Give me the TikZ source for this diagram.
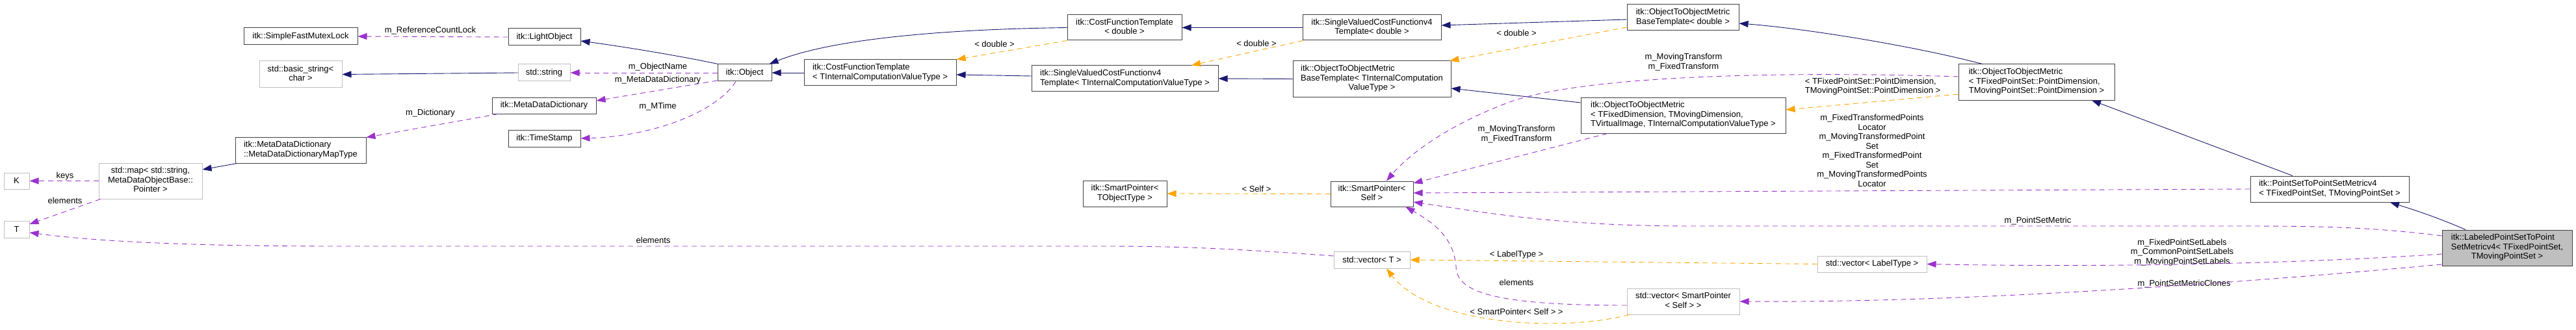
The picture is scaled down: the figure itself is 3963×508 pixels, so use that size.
\documentclass[tikz,border=0pt]{standalone}
\usepackage{fontspec}
\setmainfont{Liberation Sans}
\usetikzlibrary{arrows.meta}
\definecolor{navy}{HTML}{191970}
\definecolor{purp}{HTML}{9A32CD}
\definecolor{orng}{HTML}{FFA500}
\definecolor{gborder}{HTML}{BFBFBF}
\definecolor{bborder}{HTML}{404040}
\definecolor{labfill}{HTML}{BFBFBF}
\newcommand\dfont{\fontsize{13}{14.5}\selectfont}
\newcommand\ml[1]{\begin{tabular}{@{}c@{}}#1\end{tabular}}
\newcommand\Lf[1]{\multicolumn{1}{@{}l@{}}{#1}}
\tikzset{
  box/.style={draw=bborder, line width=1pt, fill=white, inner sep=0pt, font=\dfont},
  gbox/.style={box, draw=gborder},
  elabel/.style={font=\dfont, inner sep=0pt},
  tipa/.style={-{Triangle[length=14pt,width=10pt]}},
  inh/.style={draw=navy, line width=0.9pt, tipa},
  use/.style={draw=purp, line width=0.9pt, dash pattern=on 8pt off 6pt, tipa},
  tmpl/.style={draw=orng, line width=0.9pt, dash pattern=on 8pt off 6pt, tipa},
}
\begin{document}
\begin{tikzpicture}[x=1pt,y=-1pt]
\useasboundingbox[fill=white] (0,0) rectangle (3963,508);
% nodes
\node[gbox, minimum width=39pt, minimum height=25pt] (K) at (25.5,278.5) {K};
\node[gbox, minimum width=39pt, minimum height=26pt] (T) at (25.5,353) {T};
\node[gbox, minimum width=159pt, minimum height=55pt] (map) at (231.5,278.5) {\ml{std::map< std::string,\\ MetaDataObjectBase::\\Pointer >}};
\node[box, minimum width=175pt, minimum height=26pt] (mutex) at (462.5,56) {itk::SimpleFastMutexLock};
\node[gbox, minimum width=127pt, minimum height=41pt] (basicstr) at (462.5,114.5) {\ml{std::basic\_string<\\char >}};
\node[box, minimum width=201pt, minimum height=40pt] (mapType) at (462.5,231) {\ml{\Lf{itk::MetaDataDictionary}\\\Lf{::MetaDataDictionaryMapType}}};
\node[box, minimum width=111pt, minimum height=26pt] (light) at (837.5,57) {itk::LightObject};
\node[gbox, minimum width=80pt, minimum height=26pt] (stdstr) at (837,112) {std::string};
\node[box, minimum width=160pt, minimum height=25pt] (mdd) at (837,162.5) {itk::MetaDataDictionary};
\node[box, minimum width=111pt, minimum height=26pt] (ts) at (837.5,213) {itk::TimeStamp};
\node[box, minimum width=83pt, minimum height=26pt] (obj) at (1145.5,112) {itk::Object};
\node[box, minimum width=234pt, minimum height=40pt] (cftT) at (1354,112) {\ml{\Lf{itk::CostFunctionTemplate}\\\Lf{< TInternalComputationValueType >}}};
\node[box, minimum width=176pt, minimum height=39pt] (cftD) at (1730,42.5) {\ml{itk::CostFunctionTemplate\\< double >}};
\node[box, minimum width=287pt, minimum height=40pt] (svT) at (1730.5,121) {\ml{\Lf{itk::SingleValuedCostFunctionv4}\\\Lf{Template< TInternalComputationValueType >}}};
\node[box, minimum width=129pt, minimum height=40pt] (spT) at (1730.5,298) {\ml{itk::SmartPointer<\\TObjectType >}};
\node[box, minimum width=213pt, minimum height=39pt] (svD) at (2110.5,42.5) {\ml{itk::SingleValuedCostFunctionv4\\Template< double >}};
\node[box, minimum width=243pt, minimum height=55pt] (oobT) at (2110.5,121.5) {\ml{\Lf{itk::ObjectToObjectMetric}\\BaseTemplate< TInternalComputation\\ValueType >}};
\node[box, minimum width=127pt, minimum height=39pt] (spS) at (2110.5,298.5) {\ml{itk::SmartPointer<\\Self >}};
\node[gbox, minimum width=117pt, minimum height=26pt] (vecT) at (2110.5,400) {std::vector< T >};
\node[box, minimum width=172pt, minimum height=40pt] (oobD) at (2589,27) {\ml{itk::ObjectToObjectMetric\\BaseTemplate< double >}};
\node[box, minimum width=315pt, minimum height=55pt] (oomD) at (2589.5,177.5) {\ml{\Lf{itk::ObjectToObjectMetric}\\\Lf{< TFixedDimension, TMovingDimension,}\\TVirtualImage, TInternalComputationValueType >}};
\node[gbox, minimum width=173pt, minimum height=40pt] (vecSP) at (2589.5,464) {\ml{std::vector< SmartPointer\\< Self > >}};
\node[gbox, minimum width=168pt, minimum height=25pt] (vecL) at (2880,406.5) {std::vector< LabelType >};
\node[box, minimum width=240pt, minimum height=55pt] (oomP) at (3133,126.5) {\ml{\Lf{itk::ObjectToObjectMetric}\\\Lf{< TFixedPointSet::PointDimension,}\\TMovingPointSet::PointDimension >}};
\node[box, minimum width=244pt, minimum height=40pt] (ps) at (3584,291) {\ml{\Lf{itk::PointSetToPointSetMetricv4}\\\Lf{< TFixedPointSet, TMovingPointSet >}}};
\node[box, fill=labfill, minimum width=200pt, minimum height=55pt] (lab) at (3857,381.5) {\ml{\Lf{itk::LabeledPointSetToPoint}\\\Lf{SetMetricv4< TFixedPointSet,}\\TMovingPointSet >}};
% edge labels
\node[elabel] (lrc) at (662,47) {m\_ReferenceCountLock};
\node[elabel] (lon) at (1012,103) {m\_ObjectName};
\node[elabel] (lmd) at (1012,123) {m\_MetaDataDictionary};
\node[elabel] (lmt) at (1012,164) {m\_MTime};
\node[elabel] (ldc) at (662,174) {m\_Dictionary};
\node[elabel] (lky) at (100,271) {keys};
\node[elabel] (le1) at (100,309) {elements};
\node[elabel] (le2) at (1005,370) {elements};
\node[elabel] (ld1) at (1530,68) {< double >};
\node[elabel] (ld2) at (1933,67) {< double >};
\node[elabel] (ld3) at (2333,51) {< double >};
\node[elabel] (lsf) at (1933,291) {< Self >};
\node[elabel] (lt1) at (2333,207) {\ml{m\_MovingTransform\\m\_FixedTransform}};
\node[elabel] (lt2) at (2590,96) {\ml{m\_MovingTransform\\m\_FixedTransform}};
\node[elabel] (lpd) at (2881,133.5) {\ml{\Lf{< TFixedPointSet::PointDimension,}\\\Lf{TMovingPointSet::PointDimension >}}};
\node[elabel] (llc) at (2880,233.5) {\ml{m\_FixedTransformedPoints\\Locator\\m\_MovingTransformedPoint\\Set\\m\_FixedTransformedPoint\\Set\\m\_MovingTransformedPoints\\Locator}};
\node[elabel] (lpm) at (3135,340) {m\_PointSetMetric};
\node[elabel] (llb) at (3357,389) {\ml{m\_FixedPointSetLabels\\m\_CommonPointSetLabels\\m\_MovingPointSetLabels}};
\node[elabel] (lcl) at (3360,437) {m\_PointSetMetricClones};
\node[elabel] (llt) at (2333,392) {< LabelType >};
\node[elabel] (lsp) at (2333,480) {< SmartPointer< Self > >};
\node[elabel] (le3) at (2333,435) {elements};
% inheritance
\draw[inh] ([xshift=3pt]mapType.south west) -- ([yshift=17.5pt]map.east);
\draw[inh] (stdstr.west) -- (basicstr.east);
\draw[inh] ([xshift=1pt]obj.north west) .. controls (1040,85) and (960,72) .. ([yshift=-6pt]light.east);
\draw[inh] (cftT.west) -- (obj.east);
\draw[inh] (cftD.west) .. controls (1450,45) and (1280,60) .. ([xshift=-4pt]obj.north east);
\draw[inh] ([yshift=4pt]svT.west) -- ([yshift=-3pt]cftT.east);
\draw[inh] (svD.west) -- (cftD.east);
\draw[inh] (oobT.west) -- (svT.east);
\draw[inh] ([yshift=-3pt]oobD.west) -- ([yshift=3.5pt]svD.east);
\draw[inh] ([yshift=19.5pt]oomD.west) -- ([yshift=-14.5pt]oobT.east);
\draw[inh] ([xshift=37pt]oomP.north west) .. controls (2950,72) and (2780,44) .. ([yshift=-9pt]oobD.east);
\draw[inh] ([xshift=-57pt]ps.north) -- ([xshift=85pt]oomP.south);
\draw[inh] ([xshift=-64pt]lab.north) .. controls (3750,335) and (3720,325) .. ([xshift=93pt]ps.south);
% template instances
\draw[tmpl] (cftD.south west) -- (cftT.north east);
\draw[tmpl] ([xshift=1pt]svD.south west) -- ([xshift=102.5pt]svT.north);
\draw[tmpl] ([yshift=-15pt]oobD.west) -- ([xshift=-2pt]oobT.north east);
\draw[tmpl] ([yshift=-18.5pt]oomP.west) -- ([yshift=8.5pt]oomD.east);
\draw[tmpl] (spS.west) -- (spT.east);
\draw[tmpl] (vecL.west) -- (vecT.east);
\draw[tmpl] ([xshift=4pt]vecSP.south west) .. controls (2400,512) and (2200,500) .. ([xshift=22.5pt]vecT.south);
% usage
\draw[use] (light.west) -- (mutex.east);
\draw[use] (obj.west) -- (stdstr.east);
\draw[use] ([yshift=-12pt]obj.west) -- ([yshift=7.5pt]mdd.east);
\draw[use] ([xshift=-13.5pt]obj.south) .. controls (1100,175) and (1000,210) .. (ts.east);
\draw[use] ([xshift=10pt]mdd.south west) -- ([yshift=-1pt]mapType.north east);
\draw[use] (map.west) -- (K.east);
\draw[use] ([xshift=3pt]map.south west) -- ([yshift=8pt]T.east);
\draw[use] ([yshift=6pt]vecT.west) .. controls (1900,383) and (1820,379) .. (1700,379) -- (520,379) .. controls (300,379) and (150,372) .. ([yshift=-5pt]T.east);
\draw[use] ([xshift=-116.5pt]oomD.south) -- ([yshift=16.5pt]spS.east);
\draw[use] ([yshift=8.5pt]oomP.west) .. controls (2700,108) and (2420,120) .. (2320,158) .. controls (2230,192) and (2170,235) .. ([xshift=22.5pt]spS.north);
\draw[use] (ps.west) -- ([yshift=1.5pt]spS.east);
\draw[use] ([yshift=18.5pt]lab.west) .. controls (3650,350) and (3580,348) .. (3450,348) -- (2600,348) .. controls (2400,348) and (2290,328) .. ([yshift=-12.5pt]spS.east);
\draw[use] ([yshift=-9.5pt]lab.west) .. controls (3600,402) and (3300,413) .. (vecL.east);
\draw[use] ([yshift=-25.5pt]lab.west) .. controls (3400,440) and (3000,466) .. (vecSP.east);
\draw[use] ([yshift=-6pt]vecSP.west) .. controls (2300,470) and (2240,450) .. (2240,410) .. controls (2236,362) and (2200,340) .. ([xshift=52pt]spS.south);
\end{tikzpicture}
\end{document}
